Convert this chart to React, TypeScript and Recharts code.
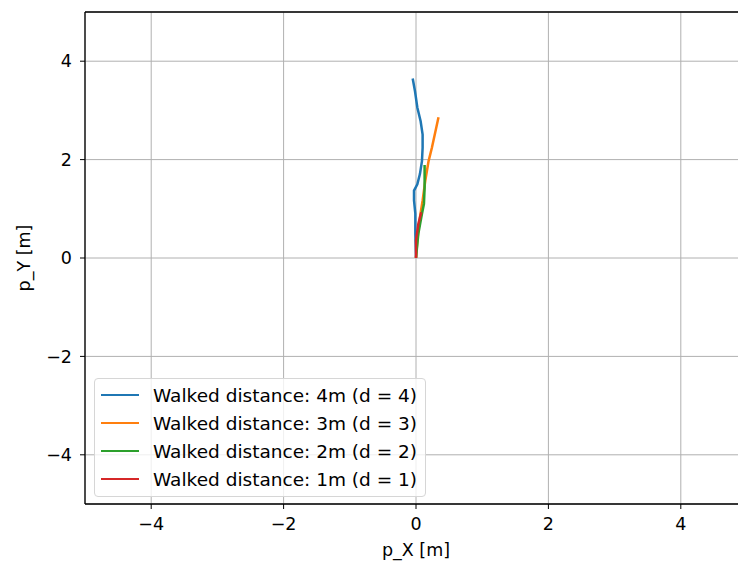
import {
  CartesianGrid,
  Legend,
  Line,
  LineChart,
  ReferenceLine,
  XAxis,
  YAxis,
} from "recharts";

const BLUE = "#1f77b4";
const ORANGE = "#ff7f0e";
const GREEN = "#2ca02c";
const RED = "#d62728";

const TICKS = [-4, -2, 0, 2, 4];

// trajectories, [p_X, p_Y] in metres
const walk4m = [
  [0, 0.02], [-0.01, 0.49], [-0.01, 0.9], [-0.03, 1.17], [-0.03, 1.37],
  [0.02, 1.5], [0.06, 1.71], [0.09, 1.97], [0.1, 2.24], [0.1, 2.51],
  [0.07, 2.78], [0.02, 3.06], [-0.015, 3.39], [-0.05, 3.65],
];
const walk3m = [
  [0, 0], [0.02, 0.36], [0.06, 0.83], [0.1, 1.17], [0.14, 1.57],
  [0.19, 1.97], [0.24, 2.24], [0.29, 2.55], [0.34, 2.86],
];
const walk2m = [
  [0, 0], [0.035, 0.49], [0.09, 0.9], [0.12, 1.1], [0.13, 1.43], [0.13, 1.89],
];
const walk1m = [
  [0, 0], [0, 0.36], [0.035, 0.69], [0.08, 0.93],
];

const toPoints = (pts: number[][]) => pts.map(([x, y]) => ({ x, y }));

const series = [
  { name: "Walked distance: 4m (d = 4)", data: toPoints(walk4m), color: BLUE },
  { name: "Walked distance: 3m (d = 3)", data: toPoints(walk3m), color: ORANGE },
  { name: "Walked distance: 2m (d = 2)", data: toPoints(walk2m), color: GREEN },
  { name: "Walked distance: 1m (d = 1)", data: toPoints(walk1m), color: RED },
];
const order = series.map((s) => s.name);

const FONT = "'DejaVu Sans', sans-serif";
const FS = 17.5;
const fmt = (v: number) => (v < 0 ? `\u2212${Math.abs(v)}` : `${v}`);

function LegendBox({ payload }: any) {
  const items = [...(payload || [])].sort(
    (a: any, b: any) => order.indexOf(a.value) - order.indexOf(b.value)
  );
  return (
    <div
      style={{
        width: 332,
        boxSizing: "border-box",
        padding: "2px 0 3px 0",
        border: "1px solid #d6d6d6",
        borderRadius: 4,
        background: "rgba(255,255,255,0.8)",
        fontFamily: FONT,
        fontSize: 18.5,
      }}
    >
      {items.map((p: any) => (
        <div key={p.value} style={{ display: "flex", alignItems: "center", height: 28 }}>
          <div style={{ width: 38, height: 2.5, background: p.color, marginLeft: 6, marginRight: 14 }} />
          <span style={{ color: "#000" }}>{p.value}</span>
        </div>
      ))}
    </div>
  );
}

export default function App() {
  return (
    <div
      style={{
        position: "absolute",
        left: 0,
        top: 0,
        width: 738,
        height: 565,
        overflow: "hidden",
        background: "#fff",
        fontFamily: FONT,
      }}
    >
      <LineChart width={762} height={565} margin={{ top: 12, right: 15, bottom: 1, left: 0 }}>
        <CartesianGrid stroke="#b0b0b0" strokeWidth={1} />
        <XAxis
          type="number"
          dataKey="x"
          domain={[-5, 5]}
          ticks={TICKS}
          tickFormatter={fmt}
          allowDataOverflow
          height={60}
          axisLine={{ stroke: "#000", strokeWidth: 1.3 }}
          tickLine={{ stroke: "#000" }}
          tickSize={5}
          tickMargin={9}
          tick={{ fill: "#000", fontSize: FS }}
          label={{ value: "p_X [m]", position: "insideBottom", offset: 8, fill: "#000", fontSize: FS }}
        />
        <YAxis
          type="number"
          dataKey="y"
          domain={[-5, 5]}
          ticks={TICKS}
          tickFormatter={fmt}
          allowDataOverflow
          width={85}
          axisLine={{ stroke: "#000", strokeWidth: 1.3 }}
          tickLine={{ stroke: "#000" }}
          tickSize={5}
          tickMargin={8}
          tick={{ fill: "#000", fontSize: FS }}
          label={{
            value: "p_Y [m]",
            angle: -90,
            position: "insideLeft",
            offset: 24,
            fill: "#000",
            fontSize: FS,
            style: { textAnchor: "middle" },
          }}
        />
        <ReferenceLine y={5} stroke="#000" strokeWidth={1.3} />
        <ReferenceLine x={5} stroke="#000" strokeWidth={1.3} />
        {series.map((s) => (
          <Line
            key={s.name}
            data={s.data}
            dataKey="y"
            name={s.name}
            stroke={s.color}
            strokeWidth={2.5}
            dot={false}
            isAnimationActive={false}
          />
        ))}
        <Legend
          layout="vertical"
          align="center"
          verticalAlign="middle"
          wrapperStyle={{ left: 94, top: 378, width: 332 }}
          content={<LegendBox />}
        />
      </LineChart>
    </div>
  );
}
